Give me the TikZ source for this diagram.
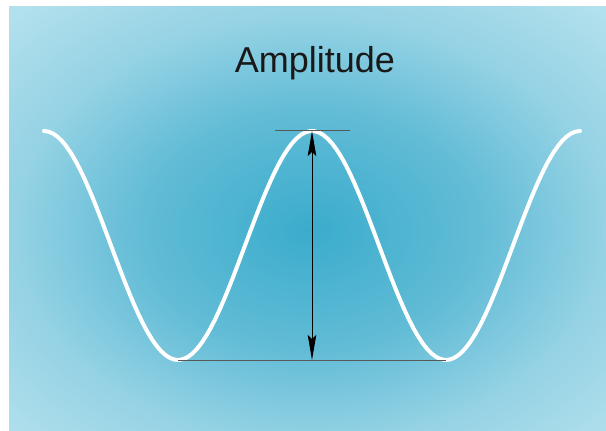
\documentclass[tikz,border=0pt]{standalone}
\usepackage{fontspec}
\setmainfont{Liberation Sans}
\usetikzlibrary{arrows.meta, positioning}
\definecolor{bgInner}{RGB}{58,172,204}
\definecolor{bgMid}{RGB}{98,188,214}
\definecolor{bgEdge}{RGB}{148,210,228}
\definecolor{bgOuter}{RGB}{178,224,237}
\pgfdeclareradialshading{bgGlow}{\pgfpoint{0bp}{0bp}}{%
    color(0bp)=(bgInner); color(10bp)=(bgMid); color(17.5bp)=(bgEdge); color(25bp)=(bgOuter); color(50bp)=(bgOuter)}
\tikzset{
    font=\rmfamily,
    % Shapes
    wave/.style={white, line width=4pt, line cap=round},
    guide/.style={draw=black!65, line width=0.8pt},
    measure/.style={{Stealth[length=25pt, width=8.5pt, inset=4pt]}-{Stealth[length=25pt, width=8.5pt, inset=4pt]}, black, line width=0.9pt},
    title/.style={font=\fontsize{36}{40}\selectfont, text=black!90, anchor=base, inner sep=0pt}
}
\begin{document}
\begin{tikzpicture}[x=1pt, y=-1pt]

% Fond
\useasboundingbox (0,0) rectangle (606,431);
\fill[white] (0,0) rectangle (606,431);
\begin{scope}
  \clip (9,6) rectangle (606,431);
  \shade[shading=bgGlow] (-110,-70) rectangle (730,530);
\end{scope}

% Titre
\node[title] (ttl) at (315,72) {Amplitude};

% Onde
\draw[wave] plot[domain=44:580, samples=120] (\x, {245.5 - 114.5*cos((\x-44)/268*360)});

% Repères
\coordinate (tickL) at (275,130);
\coordinate (tickR) at (350,130);
\coordinate (lowL) at (178,360);
\coordinate (lowR) at (446,360);
\coordinate (top) at (312,131);
\coordinate (bot) at (312,360);

\draw[guide] (tickL) -- (tickR);
\draw[guide] (lowL) -- (lowR);
\draw[measure] (top) -- (bot);

\end{tikzpicture}
\end{document}
